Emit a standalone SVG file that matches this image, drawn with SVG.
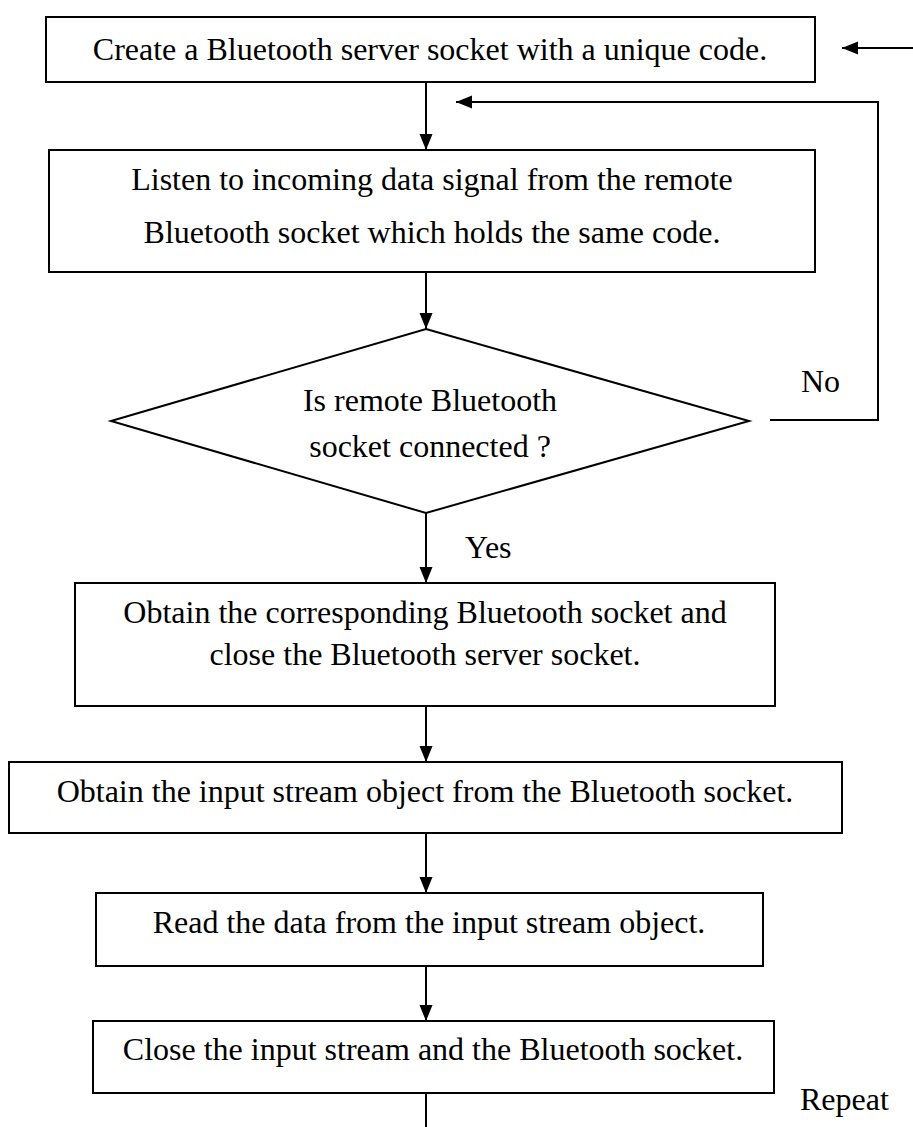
<svg xmlns="http://www.w3.org/2000/svg" width="913" height="1127" viewBox="0 0 913 1127">
  <defs>
    <marker id="arrow" markerUnits="userSpaceOnUse" markerWidth="16" markerHeight="14" refX="16" refY="7" orient="auto">
      <path d="M0,0.5 L16,7 L0,13.5 z" fill="#000"/>
    </marker>
    <style>
      .box { fill: #fff; stroke: #000; stroke-width: 2; }
      .lbl { font-family: "Liberation Serif", "Times New Roman", serif; font-size: 32px; fill: #000; }
      .mid { text-anchor: middle; }
      .link { fill: none; stroke: #000; stroke-width: 2; }
      .arr { marker-end: url(#arrow); }
    </style>
  </defs>
  <rect width="913" height="1127" fill="#fff"/>

  <!-- connectors -->
  <g id="connectors">
    <line class="link arr" x1="913" y1="48" x2="842" y2="48"/>
    <line class="link arr" x1="426" y1="82" x2="426" y2="150"/>
    <polyline class="link arr" points="770,420 878,420 878,102 456,102"/>
    <line class="link arr" x1="426" y1="272" x2="426" y2="329"/>
    <line class="link arr" x1="426" y1="513" x2="426" y2="583"/>
    <line class="link arr" x1="426" y1="706" x2="426" y2="762"/>
    <line class="link arr" x1="426" y1="833" x2="426" y2="893"/>
    <line class="link arr" x1="426" y1="966" x2="426" y2="1021"/>
    <line class="link" x1="426" y1="1093" x2="426" y2="1127"/>
    <text class="lbl" x="801" y="392">No</text>
    <text class="lbl" x="465" y="558">Yes</text>
    <text class="lbl" x="800" y="1110">Repeat</text>
  </g>

  <g id="create-server-socket">
    <rect class="box" x="46" y="17" width="769" height="65"/>
    <text class="lbl mid" x="430" y="60">Create a Bluetooth server socket with a unique code.</text>
  </g>

  <g id="listen">
    <rect class="box" x="49" y="150" width="766" height="122"/>
    <text class="lbl mid" x="432" y="190">Listen to incoming data signal from the remote</text>
    <text class="lbl mid" x="432" y="243">Bluetooth socket which holds the same code.</text>
  </g>

  <g id="is-connected">
    <polygon class="box" points="426,329 749,421 426,513 111,421"/>
    <text class="lbl mid" x="430" y="411">Is remote Bluetooth</text>
    <text class="lbl mid" x="430" y="457">socket connected ?</text>
  </g>

  <g id="obtain-socket">
    <rect class="box" x="75" y="583" width="700" height="123"/>
    <text class="lbl mid" x="425" y="623">Obtain the corresponding Bluetooth socket and</text>
    <text class="lbl mid" x="425" y="665">close the Bluetooth server socket.</text>
  </g>

  <g id="obtain-stream">
    <rect class="box" x="9" y="762" width="833" height="71"/>
    <text class="lbl mid" x="425" y="802">Obtain the input stream object from the Bluetooth socket.</text>
  </g>

  <g id="read-data">
    <rect class="box" x="96" y="893" width="667" height="73"/>
    <text class="lbl mid" x="429" y="933">Read the data from the input stream object.</text>
  </g>

  <g id="close-stream">
    <rect class="box" x="93" y="1021" width="681" height="72"/>
    <text class="lbl mid" x="433" y="1060">Close the input stream and the Bluetooth socket.</text>
  </g>
</svg>
